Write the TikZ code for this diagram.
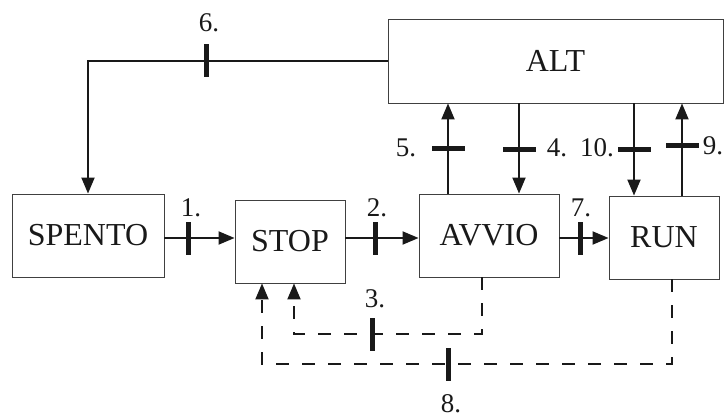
\documentclass[tikz,border=0pt]{standalone}
\usepackage{fontspec}
\setmainfont{Liberation Serif}
\usetikzlibrary{arrows.meta,calc}
\begin{document}
\begin{tikzpicture}[x=1pt,y=-1pt,
 box/.style={draw=black!75, line width=0.9pt, inner sep=0pt, text=black!90, font=\fontsize{32}{38}\selectfont},
 conn/.style={line width=2pt, black!90, -{Triangle[length=16pt,width=13pt]}},
 dconn/.style={conn, dash pattern=on 13pt off 13pt},
 vtick/.style={fill=black!90, inner sep=0pt, minimum width=5pt, minimum height=33pt},
 htick/.style={fill=black!90, inner sep=0pt, minimum width=33pt, minimum height=5pt},
 lbl/.style={font=\fontsize{27}{32}\selectfont, inner sep=0pt, text=black!90}]
\useasboundingbox (0,0) rectangle (726,417);

% boxes
\node[box, minimum width=152pt, minimum height=83pt] (SPENTO) at (88,235.5) {SPENTO};
\node[box, minimum width=110pt, minimum height=83pt] (STOP) at (290,241.5) {STOP};
\node[box, minimum width=140pt, minimum height=83pt] (AVVIO) at (489,235.5) {AVVIO};
\node[box, minimum width=110pt, minimum height=83pt] (RUN) at (664,237.5) {RUN};
\node[box, minimum width=335pt, minimum height=84pt] (ALT) at (555.5,61) {ALT};

% helper coordinates
\coordinate (h) at (0,238);
\coordinate (x5) at (448,0);
\coordinate (x4) at (519,0);
\coordinate (x10) at (634,0);
\coordinate (x9) at (682,0);
\coordinate (x3a) at (482,0);
\coordinate (x3b) at (294,0);
\coordinate (y3) at (0,334);
\coordinate (x8a) at (672,0);
\coordinate (x8b) at (262,0);
\coordinate (y8) at (0,364);

% horizontal transitions
\draw[conn] (SPENTO.east |- h) -- node[vtick,pos=0.35] (t1) {} (STOP.west |- h);
\draw[conn] (STOP.east |- h) -- node[vtick,pos=0.405] (t2) {} (AVVIO.west |- h);
\draw[conn] (AVVIO.east |- h) -- node[vtick,pos=0.42] (t7) {} (RUN.west |- h);

% vertical transitions
\draw[conn] (AVVIO.north -| x5) -- node[htick,pos=0.495] (t5) {} (ALT.south -| x5);
\draw[conn] (ALT.south -| x4) -- node[htick,pos=0.516] (t4) {} (AVVIO.north -| x4);
\draw[conn] (ALT.south -| x10) -- node[htick,pos=0.505] (t10) {} (RUN.north -| x10);
\draw[conn] (RUN.north -| x9) -- node[htick,pos=0.54] (t9) {} (ALT.south -| x9);

% ALT -> SPENTO
\draw[conn] (ALT.west) -| node[vtick,pos=0.303] (t6) {} (SPENTO.north);

% dashed returns
\draw[dconn] (AVVIO.south -| x3a) -- (x3a |- y3) -- node[vtick,pos=0.585] (t3) {} (x3b |- y3) -- (STOP.south -| x3b);
\draw[dconn] (RUN.south -| x8a) -- (x8a |- y8) -- node[vtick,pos=0.546] (t8) {} (x8b |- y8) -- (STOP.south -| x8b);

% labels
\node[lbl] (l1) at (191,207.5) {1.};
\node[lbl] (l2) at (377,208) {2.};
\node[lbl] (l3) at (375,299) {3.};
\node[lbl] (l4) at (557,148) {4.};
\node[lbl] (l5) at (406,148) {5.};
\node[lbl] (l6) at (209,23) {6.};
\node[lbl] (l7) at (581,208) {7.};
\node[lbl] (l8) at (451,403.5) {8.};
\node[lbl] (l9) at (713,146) {9.};
\node[lbl] (l10) at (597,148) {10.};
\end{tikzpicture}
\end{document}
